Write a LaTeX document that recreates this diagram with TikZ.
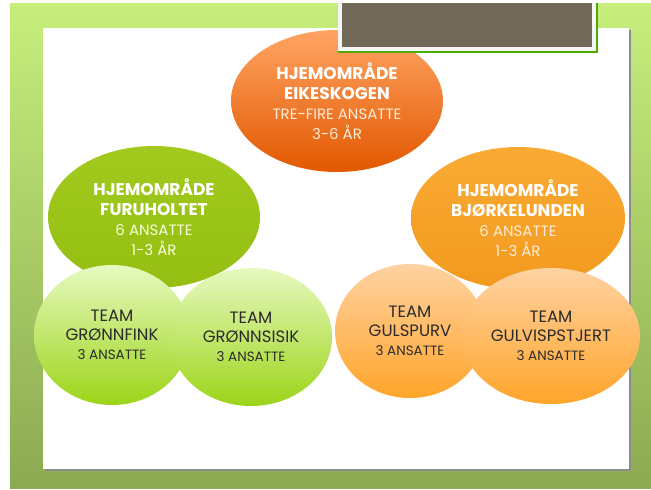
\documentclass[tikz,border=0pt]{standalone}
\usepackage{fontspec}
\setmainfont{Poppins}
\usetikzlibrary{shapes.geometric}

\definecolor{bgtop}{HTML}{C6EE7C}
\definecolor{bgbot}{HTML}{8CAA52}
\definecolor{boxbrown}{HTML}{716858}
\definecolor{redtop}{HTML}{FFA463}
\definecolor{redbot}{HTML}{E25800}
\definecolor{greentop}{HTML}{A2CA1E}
\definecolor{greenbot}{HTML}{94BE12}
\definecolor{ambertop}{HTML}{FAAA34}
\definecolor{amberbot}{HTML}{F29A1E}
\definecolor{limetop}{HTML}{E6F9C0}
\definecolor{limebot}{HTML}{9CD418}
\definecolor{peachtop}{HTML}{FFD2A2}
\definecolor{peachbot}{HTML}{FFA52A}
\definecolor{teamtext}{HTML}{2B2B2B}

\newcommand{\hd}[1]{{\fontsize{17}{20}\selectfont\bfseries #1}}
\newcommand{\cnt}[1]{{\fontsize{13.5}{19}\selectfont #1}}

\begin{document}
\begin{tikzpicture}[
    x=1pt, y=-1pt,
    area/.style={ellipse, inner sep=0pt, align=center, text=white,
      font=\fontsize{15}{20}\selectfont},
    team/.style={ellipse, inner sep=0pt, align=center, text=teamtext,
      font=\fontsize{16.5}{19}\selectfont}
  ]
  \useasboundingbox (0,0) rectangle (651,490);

  % Slide background and white panel
  \fill[top color=bgtop, bottom color=bgbot] (10,3) rectangle (651,488);
  \fill[black!45] (45,30) rectangle (631,471);
  \fill[white] (43,28) rectangle (629,469);

  % Home area Eikeskogen
  \node[area, minimum width=212, minimum height=142,
    top color=redtop, bottom color=redbot] (eik) at (337,101)
    {\hd{HJEMOMRÅDE}\\ \hd{EIKESKOGEN}\\
     \color{white!85!orange}TRE-FIRE ANSATTE\\ \color{white!85!orange}3-6 ÅR};

  % Title box on top
  \fill[green!45!black!60!lime] (338,3) rectangle (598,53);
  \fill[black!4] (338,3) rectangle (596,51);
  \fill[boxbrown] (342,3) rectangle (592,47);

  % Home areas Furuholtet and Bjørkelunden
  \node[area, minimum width=212, minimum height=142,
    top color=greentop, bottom color=greenbot] (furu) at (154,217)
    {\hd{HJEMOMRÅDE}\\ \hd{FURUHOLTET}\\
     \color{white!85!lime}6 ANSATTE\\ \color{white!85!lime}1-3 ÅR};
  \node[area, minimum width=214, minimum height=142,
    top color=ambertop, bottom color=amberbot] (bjork) at (518,218)
    {\hd{HJEMOMRÅDE}\\ \hd{BJØRKELUNDEN}\\
     \color{white!85!orange}6 ANSATTE\\ \color{white!85!orange}1-3 ÅR};

  % Teams
  \node[team, minimum width=156, minimum height=140,
    top color=limetop, bottom color=limebot] (fink) at (112,335)
    {TEAM\\ GRØNNFINK\\ \cnt{3 ANSATTE}};
  \node[team, minimum width=162, minimum height=138,
    top color=limetop, bottom color=limebot] (sisik) at (251,337)
    {TEAM\\ GRØNNSISIK\\ \cnt{3 ANSATTE}};
  \node[team, minimum width=150, minimum height=134,
    top color=peachtop, bottom color=peachbot] (spurv) at (410,331)
    {TEAM\\ GULSPURV\\ \cnt{3 ANSATTE}};
  \node[team, minimum width=178, minimum height=136,
    top color=peachtop, bottom color=peachbot] (stjert) at (551,336)
    {TEAM\\ GULVISPSTJERT\\ \cnt{3 ANSATTE}};

\end{tikzpicture}
\end{document}
